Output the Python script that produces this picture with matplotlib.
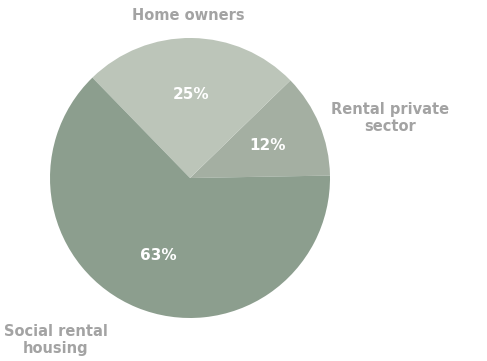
import matplotlib.pyplot as plt

# housing tenure shares (%)
categories = ['Rental private\nsector', 'Home owners', 'Social rental\nhousing']
shares = [12, 25, 63]
colors = ['#a4afa2', '#bcc5b9', '#8c9e8e']

# where the category names sit, in units of the pie radius
label_pos = [(1.43, 0.43), (-0.01, 1.16), (-0.96, -1.16)]

fig = plt.figure(figsize=(4.87, 3.61), dpi=100)
ax = fig.add_axes([50 / 487, 43 / 361, 280 / 487, 280 / 361])

wedges, texts, autotexts = ax.pie(
    shares,
    colors=colors,
    startangle=1,
    counterclock=True,
    autopct='%d%%',
    pctdistance=0.6,
    radius=1,
    wedgeprops=dict(linewidth=0),
    textprops=dict(color='white', fontsize=11, fontweight='bold',
                   family='DejaVu Sans'),
)

for name, (x, y) in zip(categories, label_pos):
    ax.text(x, y, name, ha='center', va='center', fontsize=10.5,
            fontweight='bold', color='#a3a3a3', family='DejaVu Sans',
            linespacing=1.15)

ax.set_xlim(-1, 1)
ax.set_ylim(-1, 1)
ax.set_aspect('equal')
ax.axis('off')

fig.savefig('out.png', dpi=100)
